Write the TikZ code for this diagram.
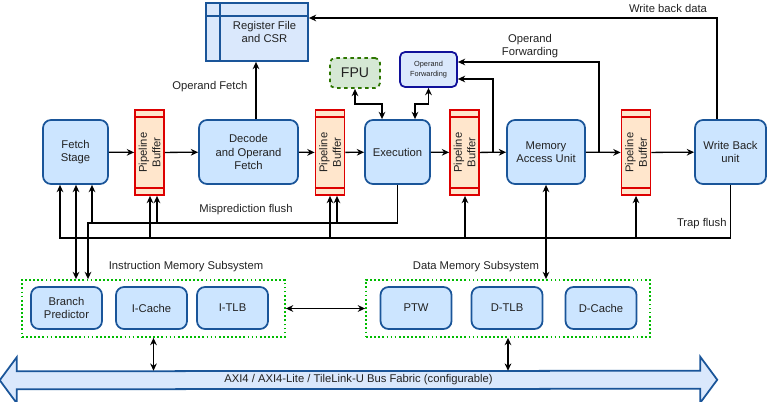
\documentclass[tikz,border=0pt]{standalone}
\usepackage{fontspec}
\setmainfont{Liberation Sans}
\usepackage{xcolor}
\usepackage{tikz}
\usetikzlibrary{arrows.meta,positioning,backgrounds}
\definecolor{boxBlue}{HTML}{CCE5FF}
\definecolor{lineBlue}{HTML}{1A5599}
\definecolor{paleBlue}{HTML}{DAE8FC}
\definecolor{fwdBlue}{HTML}{10109A}
\definecolor{fpuGreen}{HTML}{D5E8D4}
\definecolor{fpuLine}{HTML}{2D7600}
\definecolor{bufFill}{HTML}{FFE6CC}
\definecolor{bufRed}{HTML}{DD0000}
\definecolor{memGreen}{HTML}{00BB00}
\definecolor{txtGray}{HTML}{222222}

\begin{document}
\begin{tikzpicture}[x=0.03cm,y=-0.03cm,
  font=\fontsize{9.6}{11.5}\selectfont, text=txtGray,
  stage/.style={draw=lineBlue, line width=1.5pt, fill=boxBlue, rounded corners=0.24cm,
    minimum height=1.92cm, align=center, inner sep=1pt},
  membox/.style={stage, minimum width=2.13cm, minimum height=1.26cm},
  pbuf/.style={draw=bufRed, line width=1.5pt, fill=bufFill, minimum width=0.87cm,
    minimum height=2.55cm, inner sep=0pt},
  pbtext/.style={rotate=90, align=center},
  regfile/.style={draw=lineBlue, line width=1.5pt, fill=paleBlue, minimum width=3.06cm,
    minimum height=1.74cm},
  fpubox/.style={draw=fpuLine, line width=1.5pt, dashed, fill=fpuGreen, rounded corners=0.15cm,
    minimum width=1.5cm, minimum height=0.9cm, font=\fontsize{12}{14}\selectfont},
  fwdbox/.style={draw=fwdBlue, line width=1.5pt, fill=paleBlue, rounded corners=0.15cm,
    minimum width=1.71cm, minimum height=1.05cm, align=center,
    font=\fontsize{6.3}{8}\selectfont},
  memsub/.style={draw=memGreen, line width=1.5pt, dotted, inner sep=0pt},
  arr/.style={line width=1.1pt, -{Stealth[length=2.2mm,width=2mm]}},
  arrs/.style={line width=1.1pt, {Stealth[length=2.2mm,width=2mm]}-{Stealth[length=2.2mm,width=2mm]}},
  flush/.style={line width=1.3pt},
  lbl/.style={inner sep=1pt}]
\useasboundingbox (0,0) rectangle (768,402);

% pipeline stages
\node[stage, minimum width=1.95cm] (fetch)  at (75.5,152)  {Fetch\\Stage};
\node[stage, minimum width=2.97cm] (decode) at (248.5,152) {Decode\\and Operand\\Fetch};
\node[stage, minimum width=1.95cm] (exe)    at (397.5,152) {Execution};
\node[stage, minimum width=2.34cm] (mau)    at (546,152)   {Memory\\Access Unit};
\node[stage, minimum width=2.13cm] (wb)     at (730.5,152) {Write Back\\unit};

% pipeline buffers
\foreach \p/\x in {pb1/149.5,pb2/330,pb3/464.5,pb4/636}{
  \node[pbuf] (\p) at (\x,152.5) {};
  \draw[bufRed, line width=1.5pt] ([yshift=-0.24cm]\p.north west) -- ([yshift=-0.24cm]\p.north east);
  \draw[bufRed, line width=1.5pt] ([yshift=0.24cm]\p.south west) -- ([yshift=0.24cm]\p.south east);
  \node[pbtext] (\p t) at (\p) {Pipeline\\Buffer};
}

% register file, FPU, forwarding unit
\node[regfile] (regfile) at (257,32) {};
\draw[lineBlue, line width=1.5pt] ([xshift=0.45cm]regfile.north west) -- ([xshift=0.45cm]regfile.south west);
\draw[lineBlue, line width=1.5pt] ([yshift=-0.42cm]regfile.north west) -- ([yshift=-0.42cm]regfile.north east);
\node[align=center] (regfilet) at (264.5,32) {Register File\\and CSR};
\node[fpubox] (fpu) at (355,73) {FPU};
\node[fwdbox] (fwd) at (428.5,69.5) {Operand\\Forwarding};

% memory subsystems
\node[memsub, minimum width=7.89cm, minimum height=1.71cm] (imem) at (153.5,308.5) {};
\node[memsub, minimum width=8.52cm, minimum height=1.71cm] (dmem) at (508,308.5) {};
\node[membox] (bp)     at (66.5,308)  {Branch\\Predictor};
\node[membox] (icache) at (151.5,308) {I-Cache};
\node[membox] (itlb)   at (232.5,308) {I-TLB};
\node[membox] (ptw)    at (416,308)   {PTW};
\node[membox] (dtlb)   at (507,308)   {D-TLB};
\node[membox] (dcache) at (601,308)   {D-Cache};
\node[lbl] (imeml) at (186,267) {Instruction Memory Subsystem};
\node[lbl] (dmeml) at (476,267) {Data Memory Subsystem};

% bus fabric
\node[minimum width=20.49cm, minimum height=0.54cm, inner sep=0pt] (bus) at (358.5,380)
  {AXI4 / AXI4-Lite / TileLink-U Bus Fabric (configurable)};
\begin{scope}[on background layer]
\draw[draw=lineBlue, line width=1.5pt, fill=paleBlue, line join=miter]
  (bus.north east) -- ++(0,-14) -- ++(17,23) -- ++(-17,23) -- ++(0,-14)
  -- (bus.south west) -- ++(0,14) -- ++(-17,-23) -- ++(17,-23) -- ++(0,14) -- cycle;
\end{scope}

% main datapath
\draw[arr] (fetch) -- (pb1);
\draw[arr] (pb1) -- (decode);
\draw[arr] (decode) -- (pb2);
\draw[arr] (pb2) -- (exe);
\draw[arr] (exe) -- (pb3);
\draw[arr] (pb3) -- (mau);
\draw[arr] (mau) -- (pb4);
\draw[arr] (pb4) -- (wb);

% register file access
\draw[arr] (256,0 |- decode.north) -- (256,0 |- regfile.south);
\node[lbl] (opfetch) at (210,87) {Operand Fetch};
\draw[arr] (717,0 |- wb.north) |- (regfile.east |- 0,18);
\node[lbl] (wbdata) at (668,8) {Write back data};

% FPU and forwarding
\draw[arrs] (fpu.south) -- ++(0,15) -| (382,0 |- exe.north);
\draw[arrs] (fwd.south) -- ++(0,16) -| (415,0 |- exe.north);
\draw[arr] (599,152) |- ([yshift=0.225cm]fwd.east);
\draw[arr] (493,152) |- ([yshift=-0.285cm]fwd.east);
\node[lbl, align=center] (fwdl) at (530,46) {Operand\\Forwarding};

% misprediction flush
\coordinate (misL) at (88,223);
\draw[flush, -{Stealth[length=2.2mm,width=2mm]}] (exe.south) |- (misL) -- (misL |- imem.north);
\foreach \b/\x in {fetch/92,pb1/157,pb2/337}{
  \draw[arr] (\x,223) -- (\x,0 |- \b.south);
}
\node[lbl] (misl) at (246,210) {Misprediction flush};

% trap flush
\coordinate (trapL) at (60,238);
\draw[flush, -{Stealth[length=2.2mm,width=2mm]}] (wb.south) |- (trapL) -- (trapL |- fetch.south);
\foreach \b/\x in {pb1/150,pb2/330,pb3/465,pb4/636}{
  \draw[arr] (\x,238) -- (\x,0 |- \b.south);
}
\node[lbl, anchor=east] (trapl) at (728,224) {Trap flush};

% memory links
\draw[arrs] (76,0 |- fetch.south) -- (76,0 |- imem.north);
\draw[arrs] (mau.south) -- (mau.south |- dmem.north);
\draw[arrs] (imem.east) -- (dmem.west);
\draw[arrs] (imem.south) -- (imem.south |- bus.north);
\draw[arrs] (dmem.south) -- (dmem.south |- bus.north);
\end{tikzpicture}
\end{document}
